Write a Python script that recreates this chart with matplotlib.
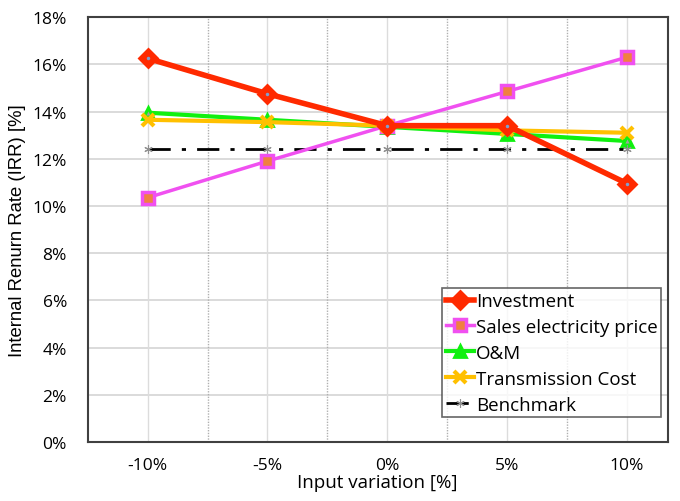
import numpy as np
import matplotlib
matplotlib.use("Agg")
import matplotlib.pyplot as plt

plt.rcParams['font.family'] = ['Open Sans', 'DejaVu Sans']

# chart data
variation = ['-10%', '-5%', '0%', '5%', '10%']
investment = [16.25, 14.75, 13.4, 13.4, 10.95]
sales_price = [10.35, 11.9, 13.4, 14.85, 16.3]
om = [13.95, 13.65, 13.35, 13.05, 12.75]
transmission = [13.65, 13.55, 13.4, 13.2, 13.1]
benchmark = [12.4, 12.4, 12.4, 12.4, 12.4]
y_ticks = [0, 2, 4, 6, 8, 10, 12, 14, 16, 18]

fig = plt.figure(figsize=(6.8, 5.02), dpi=100)
ax = fig.add_axes([0.129, 0.1175, 0.853, 0.8465])

x = np.arange(len(variation))

# grid: solid at categories, dotted between
for yt in y_ticks:
    ax.axhline(yt, color='#d4d4d4', lw=1.2, zorder=0)
for xi in x:
    ax.axvline(xi, color='#dcdcdc', lw=1.0, zorder=0)
for xi in x[:-1] + 0.5:
    ax.axvline(xi, color='#b0b0b0', lw=1.0, ls=(0, (1, 1)), zorder=0)

ax.plot(x, investment, color='#ff2a00', lw=4, marker='D', ms=9,
        mfc='#ff2a00', mec='#ff2a00', mew=2, label='Investment', zorder=5)
ax.plot(x, investment, ls='none', marker='o', ms=2.5, mfc='#7f9fd0', mec='none', zorder=6)
ax.plot(x, sales_price, color='#f050f0', lw=2.5, marker='s', ms=9,
        mfc='#f08040', mec='#f050f0', mew=2.5, label='Sales electricity price', zorder=4)
ax.plot(x, om, color='#10f010', lw=3, marker='^', ms=8,
        mfc='#10f010', mec='#10f010', mew=2, label='O&M', zorder=3)
ax.plot(x, om, ls='none', marker='^', ms=3, mfc='#a0a0a0', mec='none', zorder=3.5)
ax.plot(x, transmission, color='#ffc000', lw=3, marker='x', ms=9,
        mew=3, label='Transmission Cost', zorder=4)
ax.plot(x, benchmark, color='black', lw=2, ls=(0, (8, 4, 1.5, 4)), marker=(6, 2, 0), ms=6,
        mec='#909090', mew=0.8, label='Benchmark', zorder=3)

ax.set_xlim(-0.5, 4.34)
ax.set_ylim(0, 18)
ax.set_xticks(x)
ax.set_xticklabels(variation)
ax.set_yticks(y_ticks)
ax.set_yticklabels([f'{v}%' for v in y_ticks])
ax.tick_params(axis='both', labelsize=12.5, length=0)
ax.tick_params(axis='x', pad=11)
ax.tick_params(axis='y', pad=15)

for s in ax.spines.values():
    s.set_color('#404040')
    s.set_linewidth(1.5)

ax.set_xlabel('Input variation [%]', fontsize=13.5, labelpad=0)
ax.set_ylabel('Internal Renurn Rate (IRR) [%]', fontsize=13.3, labelpad=5,
              family=['Liberation Sans', 'DejaVu Sans'])

leg = ax.legend(loc='lower right', bbox_to_anchor=(0.989, 0.058), fontsize=13.5,
                frameon=True, fancybox=False, edgecolor='#404040', handlelength=1.5,
                handletextpad=0.1, borderpad=0.2, labelspacing=0.42, borderaxespad=0)
leg.get_frame().set_linewidth(1.2)

fig.savefig('out.png', dpi=100)
